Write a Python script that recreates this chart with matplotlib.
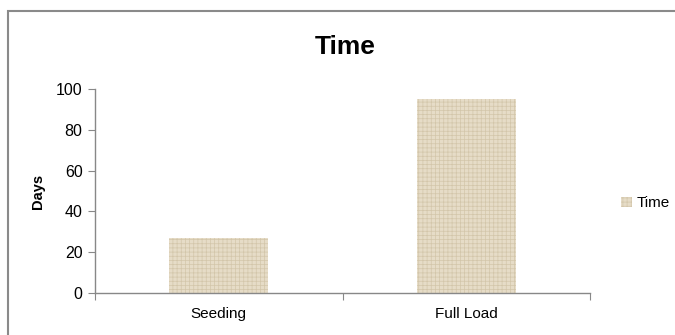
import matplotlib
matplotlib.use("Agg")
import matplotlib.pyplot as plt
from matplotlib.patches import Rectangle

categories = ["Seeding", "Full Load"]
days = [27, 95]
yticks = [0, 20, 40, 60, 80, 100]

plt.rcParams['font.family'] = ['Liberation Sans', 'DejaVu Sans']
plt.rcParams['hatch.linewidth'] = 0.5

fig = plt.figure(figsize=(6.75, 3.35), dpi=100)

# chart frame
fig.patches.append(Rectangle((8 / 675, -0.05), 1.0, (335 - 11) / 335 + 0.05,
                             transform=fig.transFigure, fill=False,
                             edgecolor='#8a8a8a', linewidth=1.5))

ax = fig.add_axes([95 / 675, 42 / 335, 495 / 675, 204 / 335])
x = [0.5, 1.5]
ax.bar(x, days, width=0.4, facecolor='#e6dcc7', edgecolor='#d3c6aa',
       linewidth=0, hatch='++++', label='Time')
ax.set_xlim(0, 2)
ax.set_ylim(0, 100)
ax.set_yticks(yticks)
ax.set_xticks([0, 1, 2])
ax.set_xticklabels([])
ax.set_xticks(x, minor=True)
ax.set_xticklabels(categories, minor=True)
ax.tick_params(axis='x', which='minor', length=0, pad=10, labelsize=11)
ax.tick_params(axis='x', which='major', length=5, color='#888888', direction='out')
ax.tick_params(axis='y', length=5, color='#888888', labelsize=11.5, pad=4)
for s in ['top', 'right']:
    ax.spines[s].set_visible(False)
for s in ['left', 'bottom']:
    ax.spines[s].set_color('#888888')
    ax.spines[s].set_linewidth(1.0)

ax.set_ylabel("Days", fontsize=10.5, fontweight='bold', labelpad=8)
fig.text(345 / 675, 1 - 47 / 335, "Time", fontsize=19, fontweight='bold',
         ha='center', va='center')

leg = ax.legend(loc='center left', bbox_to_anchor=(1.035, 0.44), frameon=False,
                fontsize=11, handlelength=0.7, handleheight=0.7, handletextpad=0.3)

fig.savefig("out.png", dpi=100)
